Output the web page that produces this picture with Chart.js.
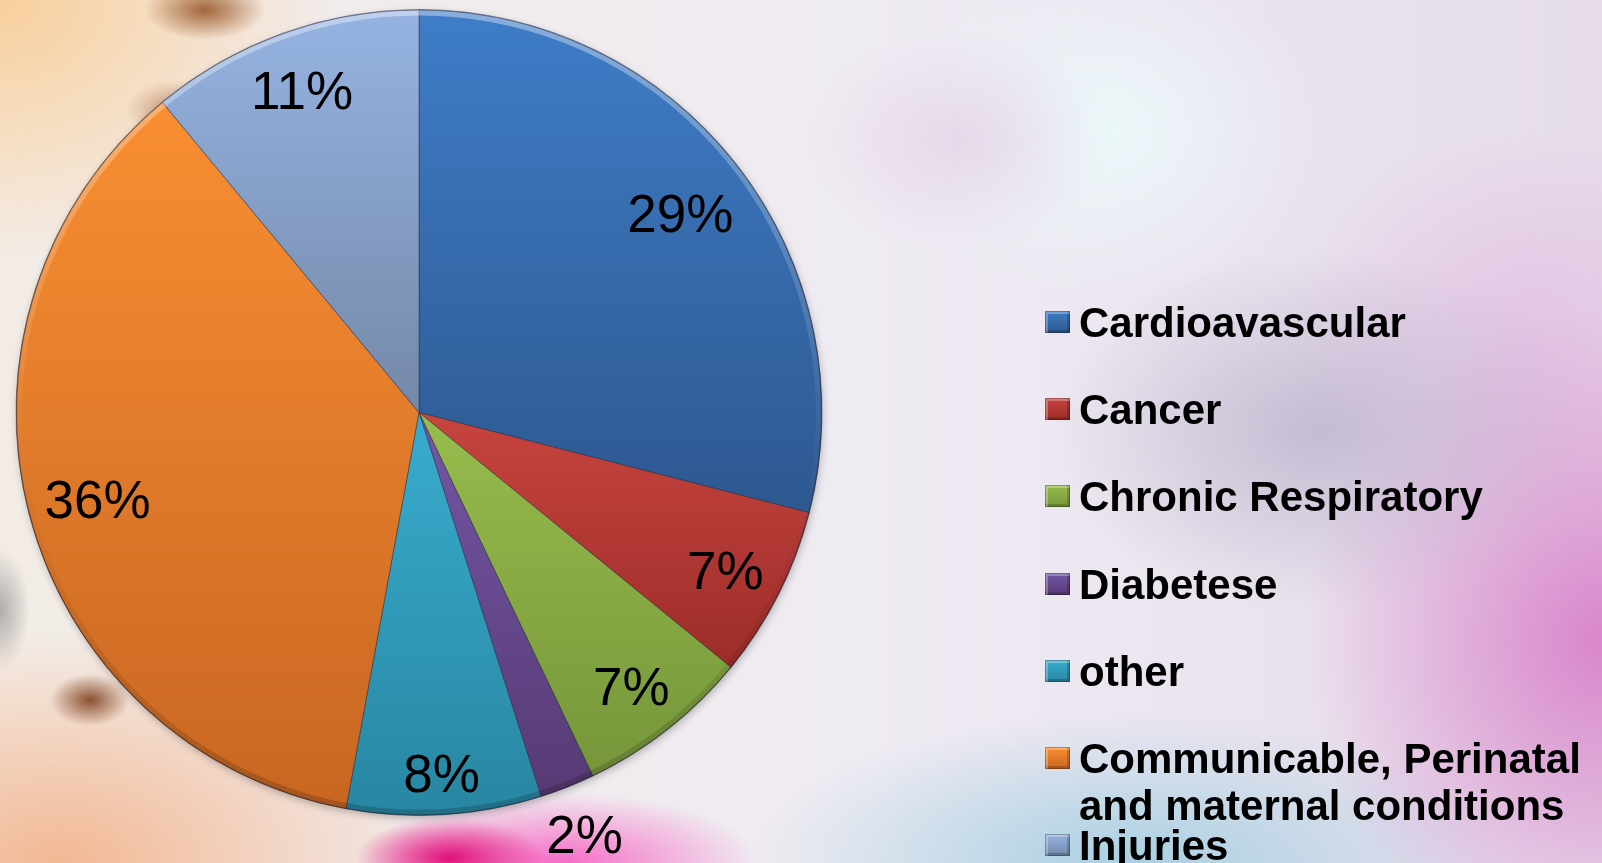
<!DOCTYPE html>
<html>
<head>
<meta charset="utf-8">
<script src="https://cdn.jsdelivr.net/npm/chart.js@4.4.1/dist/chart.umd.min.js"></script>
<style>
html,body{margin:0;padding:0;width:1602px;height:863px;overflow:hidden}
body{
  background:
    radial-gradient(ellipse 95px 40px at 450px 858px, rgba(225,16,122,1), rgba(225,16,122,0)),
    radial-gradient(ellipse 200px 70px at 560px 863px, rgba(246,100,196,.95), rgba(246,100,196,0)),
    radial-gradient(ellipse 60px 30px at 205px 10px, rgba(140,70,20,.8), rgba(140,70,20,0)),
    radial-gradient(ellipse 50px 30px at 175px 110px, rgba(160,90,50,.55), rgba(160,90,50,0)),
    radial-gradient(ellipse 40px 26px at 90px 700px, rgba(110,45,10,.8), rgba(110,45,10,0)),
    radial-gradient(ellipse 30px 60px at 0px 610px, rgba(130,130,130,.6), rgba(130,130,130,0)),
    radial-gradient(ellipse 330px 260px at 0px 0px, #f8cf9c, rgba(248,207,156,0)),
    radial-gradient(ellipse 380px 230px at 60px 863px, #f2b894, rgba(242,184,148,0)),
    radial-gradient(ellipse 150px 110px at 960px 140px, rgba(228,206,228,.7), rgba(228,206,228,0)),
    radial-gradient(ellipse 270px 180px at 1320px 430px, rgba(190,180,205,.85), rgba(190,180,205,0)),
    radial-gradient(ellipse 300px 330px at 1602px 640px, #d986cb, rgba(217,134,203,0)),
    radial-gradient(ellipse 250px 200px at 1530px 330px, rgba(225,190,225,.8), rgba(225,190,225,0)),
    radial-gradient(ellipse 380px 150px at 1130px 863px, #a9d0e2, rgba(169,208,226,0)),
    radial-gradient(ellipse 220px 170px at 1100px 130px, rgba(235,248,250,1), rgba(235,248,250,0)),
    linear-gradient(90deg, #f3ece6 0%, #efebf3 55%, #e6dcea 100%);
}
#c{position:absolute;left:0;top:0}
#legend{position:absolute;left:1045px;top:0;width:557px;height:863px;font:bold 42px "Liberation Sans",Arial,sans-serif;color:#000}
.row{position:absolute;left:0;width:557px;line-height:47px}
.box{position:absolute;left:0;top:12px;width:25px;height:22px;box-shadow:inset 0 0 0 1px rgba(0,0,0,.25),inset 3px 3px 0 rgba(255,255,255,.28),inset -3px -3px 0 rgba(0,0,0,.18)}
.txt{position:absolute;left:34px;width:518px;white-space:normal}
</style>
</head>
<body>
<canvas id="c" width="1602" height="863"></canvas>
<div id="legend"></div>
<script>
// causes of death, share of total
const labels = ['Cardioavascular','Cancer','Chronic Respiratory','Diabetese','other','Communicable, Perinatal and maternal conditions','Injuries'];
const values = [29.0, 6.9, 7.0, 2.2, 7.8, 36.1, 11.0];
const topColors = ['#3f7dc8','#c8443f','#98bc4c','#7456a6','#39acce','#f98e32','#96b3e2'];
const botColors = ['#2d5890','#9c2c29','#76963a','#573a74','#2886a2','#c86622','#7488a8'];

const total = values.reduce((a,b)=>a+b,0);
const R = 403;

function sliceSpan(i, cx, cy){
  let a0 = -Math.PI/2;
  for(let k=0;k<i;k++) a0 += values[k]/total*2*Math.PI;
  const a1 = a0 + values[i]/total*2*Math.PI;
  const ys = [cy, cy+R*Math.sin(a0), cy+R*Math.sin(a1)];
  for(const a of [-Math.PI/2, Math.PI/2, 3*Math.PI/2]) if(a>=a0 && a<=a1) ys.push(cy+R*Math.sin(a));
  return [Math.min(...ys), Math.max(...ys)];
}

function sliceFill(c){
  const chart = c.chart, area = chart.chartArea;
  if(!area) return topColors[c.dataIndex];
  const cx=(area.left+area.right)/2, cy=(area.top+area.bottom)/2;
  const [y0,y1] = sliceSpan(c.dataIndex, cx, cy);
  const g = chart.ctx.createLinearGradient(0,y0,0,y1);
  g.addColorStop(0, topColors[c.dataIndex]);
  g.addColorStop(1, botColors[c.dataIndex]);
  return g;
}

const pieDeco = {
  id:'pieDeco',
  beforeDatasetsDraw(chart){
    const a = chart.chartArea, ctx = chart.ctx;
    const cx=(a.left+a.right)/2, cy=(a.top+a.bottom)/2;
    ctx.save();
    ctx.shadowColor='rgba(0,0,0,.3)'; ctx.shadowBlur=8; ctx.shadowOffsetX=1; ctx.shadowOffsetY=3;
    ctx.beginPath(); ctx.arc(cx,cy,R-1,0,Math.PI*2); ctx.fillStyle='#777'; ctx.fill();
    ctx.restore();
  },
  afterDatasetsDraw(chart){
    const a = chart.chartArea, ctx = chart.ctx;
    const cx=(a.left+a.right)/2, cy=(a.top+a.bottom)/2;
    ctx.save();
    // soft bevel on the rim
    const g = ctx.createLinearGradient(0,cy-R,0,cy+R);
    g.addColorStop(0,'rgba(255,255,255,.38)');
    g.addColorStop(.45,'rgba(255,255,255,.08)');
    g.addColorStop(.7,'rgba(0,0,0,.04)');
    g.addColorStop(1,'rgba(0,0,0,.18)');
    ctx.beginPath(); ctx.arc(cx,cy,R-3,0,Math.PI*2);
    ctx.lineWidth=6; ctx.strokeStyle=g; ctx.stroke();
    ctx.beginPath(); ctx.arc(cx,cy,R-0.5,0,Math.PI*2);
    ctx.lineWidth=1.2; ctx.strokeStyle='rgba(30,30,50,.45)'; ctx.stroke();

    // percentage labels, best fit inside the rim, tiny slices outside
    ctx.font='53px "Liberation Sans", Arial, sans-serif';
    ctx.fillStyle='#000'; ctx.textAlign='center'; ctx.textBaseline='alphabetic';
    chart.getDatasetMeta(0).data.forEach((arc,i)=>{
      const p = arc.getProps(['x','y','startAngle','endAngle','outerRadius'], true);
      const mid = (p.startAngle+p.endAngle)/2, ux=Math.cos(mid), uy=Math.sin(mid);
      const txt = Math.round(values[i]/total*100)+'%';
      const hw = ctx.measureText(txt).width/2, hh = 30;
      const proj = hw*Math.abs(ux)+hh*Math.abs(uy);
      const r = values[i]/total < 0.03 ? p.outerRadius+5+proj : p.outerRadius-12-proj;
      ctx.fillText(txt, p.x+ux*r, p.y+uy*r+22);
    });
    ctx.restore();
  }
};

new Chart(document.getElementById('c'), {
  type:'pie',
  data:{ labels: labels, datasets:[{
    data: values,
    backgroundColor: sliceFill,
    borderColor: 'rgba(35,40,60,.45)',
    borderWidth: 1,
    radius: R
  }]},
  options:{
    responsive:false,
    animation:false,
    layout:{ padding:{ left:0, top:0, right:764, bottom:38 } },
    plugins:{ legend:{display:false}, tooltip:{enabled:false} }
  },
  plugins:[pieDeco]
});

// legend
const lg = document.getElementById('legend');
labels.forEach((name,i)=>{
  const row = document.createElement('div');
  row.className='row';
  row.style.top = (299 + i*87.2)+'px';
  row.innerHTML = `<div class="box" style="background:linear-gradient(180deg,${topColors[i]},${botColors[i]})"></div><div class="txt">${name}</div>`;
  lg.appendChild(row);
});
</script>
</body>
</html>
